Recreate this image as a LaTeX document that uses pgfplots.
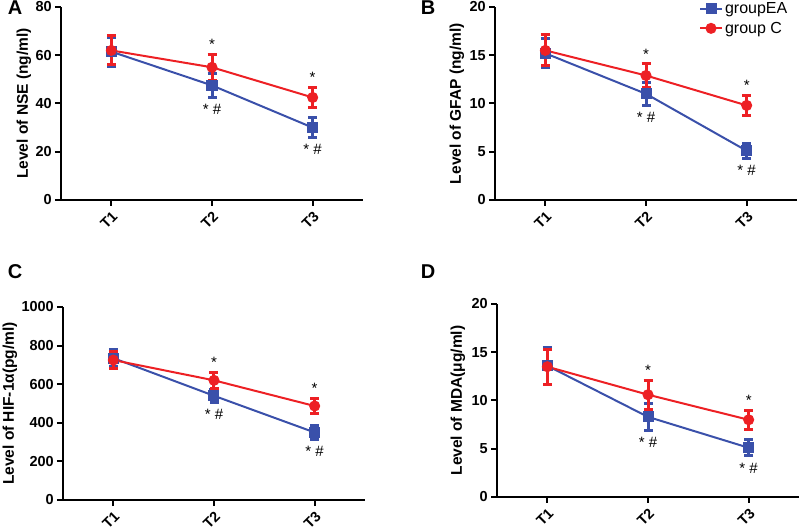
\documentclass[border=0pt]{standalone}
\usepackage{fontspec}
\setmainfont{Liberation Sans}
\usepackage{pgfplots}
\pgfplotsset{compat=1.18}
\definecolor{ea}{RGB}{58,80,170}
\definecolor{gc}{RGB}{237,32,36}

\pgfplotsset{
  panel/.style={
    scale only axis, width=302pt, height=193pt,
    anchor=south west, clip=false,
    axis x line*=bottom, axis y line*=left,
    axis line style={line width=2pt},
    tick align=outside, major tick length=6pt,
    tick style={line width=2pt, black},
    xmin=0.5, xmax=3.5, xtick={1,2,3}, xticklabels={T1,T2,T3},
    ymin=0,
    tick label style={font=\bfseries\fontsize{14.5}{16}\selectfont},
    /pgf/number format/assume math mode=true,
    /pgf/number format/1000 sep={},
    xticklabel style={rotate=45, anchor=north east, inner sep=3pt},
    yticklabel style={inner sep=3pt},
    label style={font=\bfseries\fontsize{15.5}{17}\selectfont},
  },
  eaplot/.style={color=ea, line width=2pt, mark=square*, mark size=4.5pt,
    error bars/.cd, y dir=both, y explicit,
    error bar style={line width=3pt},
    error mark options={rotate=90, line width=3pt, mark size=4.5pt}},
  gcplot/.style={color=gc, line width=2pt, mark=*, mark size=4.5pt,
    error bars/.cd, y dir=both, y explicit,
    error bar style={line width=3pt},
    error mark options={rotate=90, line width=3pt, mark size=4.5pt}},
}
\newcommand{\up}[2]{\node[font=\fontsize{15}{15}\selectfont, yshift=10pt] at (axis cs:#1,#2) {*};}
\newcommand{\dn}[2]{\node[font=\fontsize{15}{15}\selectfont, yshift=-12pt] at (axis cs:#1,#2) {* \#};}
\newcommand{\ylab}[1]{ylabel style={at={([xshift=-#1]axis description cs:0,0.5)}, anchor=center}}

\begin{document}
\begin{tikzpicture}
\useasboundingbox (0,0) rectangle (800pt,527pt);

% A
\begin{axis}[panel, at={(61pt,327pt)}, ymax=80, ytick={0,20,40,60,80},
  ylabel={Level of NSE (ng/ml)}, \ylab{37pt}]
  \addplot[eaplot] coordinates {(1,61.5) +- (0,6) (2,47.5) +- (0,5) (3,30) +- (0,4)};
  \addplot[gcplot] coordinates {(1,62) +- (0,6) (2,55) +- (0,5.5) (3,42.5) +- (0,4.3)};
  \up{2}{60.5} \up{3}{46.8}
  \dn{2}{42.5} \dn{3}{26}
\end{axis}
\node[font=\bfseries\fontsize{20}{20}\selectfont] at (15pt,519pt) {A};

% B
\begin{axis}[panel, at={(495pt,327pt)}, ymax=20, ytick={0,5,10,15,20},
  ylabel={Level of GFAP (ng/ml)}, \ylab{38pt},
  legend style={draw=none, fill=none, at={(0.665,1.045)}, anchor=north west,
    font=\fontsize{16}{18}\selectfont, row sep=3pt},
  legend cell align=left,
  legend image code/.code={\draw[mark repeat=2, mark phase=2, #1] plot coordinates {(0pt,0pt) (11pt,0pt) (22pt,0pt)};}]
  \addplot[eaplot] coordinates {(1,15.2) +- (0,1.5) (2,11.0) +- (0,1.2) (3,5.1) +- (0,0.75)};
  \addplot[gcplot] coordinates {(1,15.5) +- (0,1.6) (2,12.9) +- (0,1.2) (3,9.8) +- (0,1.0)};
  \legend{groupEA, group C}
  \up{2}{14.1} \up{3}{10.8}
  \dn{2}{9.8} \dn{3}{4.35}
\end{axis}
\node[font=\bfseries\fontsize{20}{20}\selectfont] at (428pt,519pt) {B};

% C
\begin{axis}[panel, at={(63pt,27pt)}, ymax=1000, ytick={0,200,400,600,800,1000},
  ylabel={Level of HIF-1α(pg/ml)}, \ylab{53pt}]
  \addplot[eaplot] coordinates {(1,735) +- (0,45) (2,540) +- (0,35) (3,350) +- (0,35)};
  \addplot[gcplot] coordinates {(1,725) +- (0,45) (2,620) +- (0,42) (3,487) +- (0,40)};
  \up{2}{662} \up{3}{527}
  \dn{2}{505} \dn{3}{315}
\end{axis}
\node[font=\bfseries\fontsize{20}{20}\selectfont] at (15pt,255pt) {C};

% D
\begin{axis}[panel, at={(497pt,30pt)}, ymax=20, ytick={0,5,10,15,20},
  ylabel={Level of MDA(μg/ml)}, \ylab{39pt}]
  \addplot[eaplot] coordinates {(1,13.6) +- (0,1.9) (2,8.3) +- (0,1.4) (3,5.1) +- (0,0.85)};
  \addplot[gcplot] coordinates {(1,13.5) +- (0,1.8) (2,10.6) +- (0,1.5) (3,8.0) +- (0,1.0)};
  \up{2}{12.1} \up{3}{9.0}
  \dn{2}{6.9} \dn{3}{4.25}
\end{axis}
\node[font=\bfseries\fontsize{20}{20}\selectfont] at (428pt,255pt) {D};
\end{tikzpicture}
\end{document}
